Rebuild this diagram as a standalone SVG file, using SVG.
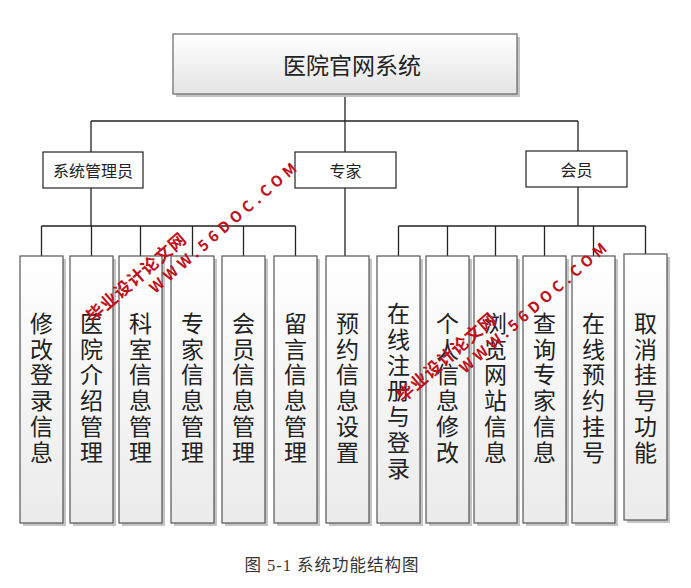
<svg xmlns="http://www.w3.org/2000/svg" width="691" height="588" viewBox="0 0 691 588">
<defs>
<linearGradient id="gTop" x1="0" y1="0" x2="0" y2="1"><stop offset="0" stop-color="#ffffff"/><stop offset="1" stop-color="#e4e4e4"/></linearGradient>
<linearGradient id="gLeaf" x1="0" y1="0" x2="0" y2="1"><stop offset="0" stop-color="#ffffff"/><stop offset="1" stop-color="#ebebeb"/></linearGradient>
<style>
.cn{font-family:"Noto Sans CJK SC","Noto Sans",sans-serif;fill:#222}
.top{font-size:23px}
.l2{font-size:16px}
.leaf{font-size:23px;writing-mode:vertical-rl;letter-spacing:2.8px;text-anchor:middle}
.shadow{fill:#c4c4c4}
.topbox{fill:url(#gTop);stroke:#666;stroke-width:1.2}
.leafbox{fill:url(#gLeaf);stroke:#555;stroke-width:1.2}
.l2box{fill:#fff;stroke:#222;stroke-width:1.2}
.conn{stroke:#222;stroke-width:1.3;fill:none}
.wm{font-family:"Noto Sans CJK SC","Liberation Sans",sans-serif;font-weight:bold;fill:#c0101a}
.cap{font-family:"Liberation Serif","Noto Sans CJK SC",serif;font-size:16.5px;letter-spacing:1px;fill:#333}
</style>
</defs>
<rect width="691" height="588" fill="#fff"/>

<g id="connectors" class="conn">
<path d="M345 95V121M91 121H578M91 121V152M345 121V256M578 121V151"/>
<path d="M91 188V226M41.5 226H295.5M41.5 226V256M91.5 226V256M140.5 226V256M192.5 226V256M243.5 226V256M295.5 226V256"/>
<path d="M578 187V226M398.5 226H645.5M398.5 226V256M447.5 226V256M495.5 226V256M544.5 226V256M593.5 226V256M645.5 226V254"/>
</g>

<g id="root">
<rect class="shadow" x="176" y="37" width="344" height="60"/>
<rect class="topbox" x="173" y="34" width="344" height="60"/>
<text class="cn top" x="352" y="64" text-anchor="middle" dominant-baseline="central">医院官网系统</text>
</g>

<g id="admin"><rect class="l2box" x="43" y="152" width="100" height="36"/><text class="cn l2" x="93" y="170" text-anchor="middle" dominant-baseline="central">系统管理员</text></g>
<g id="expert"><rect class="l2box" x="295" y="152" width="101" height="36"/><text class="cn l2" x="345.5" y="170" text-anchor="middle" dominant-baseline="central">专家</text></g>
<g id="member"><rect class="l2box" x="526" y="151" width="101" height="36"/><text class="cn l2" x="576.5" y="169" text-anchor="middle" dominant-baseline="central">会员</text></g>

<g id="leaf1"><rect class="shadow" x="23" y="259" width="43" height="267"/><rect class="leafbox" x="20" y="256" width="43" height="267"/><text class="cn leaf" x="41.5" y="389">修改登录信息</text></g>
<g id="leaf2"><rect class="shadow" x="73" y="259" width="43" height="267"/><rect class="leafbox" x="70" y="256" width="43" height="267"/><text class="cn leaf" x="91.5" y="389">医院介绍管理</text></g>
<g id="leaf3"><rect class="shadow" x="122" y="259" width="43" height="267"/><rect class="leafbox" x="119" y="256" width="43" height="267"/><text class="cn leaf" x="140.5" y="389">科室信息管理</text></g>
<g id="leaf4"><rect class="shadow" x="174" y="259" width="43" height="267"/><rect class="leafbox" x="171" y="256" width="43" height="267"/><text class="cn leaf" x="192.5" y="389">专家信息管理</text></g>
<g id="leaf5"><rect class="shadow" x="225" y="259" width="43" height="267"/><rect class="leafbox" x="222" y="256" width="43" height="267"/><text class="cn leaf" x="243.5" y="389">会员信息管理</text></g>
<g id="leaf6"><rect class="shadow" x="277" y="259" width="43" height="267"/><rect class="leafbox" x="274" y="256" width="43" height="267"/><text class="cn leaf" x="295.5" y="389">留言信息管理</text></g>
<g id="leaf7"><rect class="shadow" x="329" y="259" width="43" height="267"/><rect class="leafbox" x="326" y="256" width="43" height="267"/><text class="cn leaf" x="347.5" y="389">预约信息设置</text></g>
<g id="leaf8"><rect class="shadow" x="380" y="259" width="43" height="267"/><rect class="leafbox" x="377" y="256" width="43" height="267"/><text class="cn leaf" x="398.5" y="392">在线注册与登录</text></g>
<g id="leaf9"><rect class="shadow" x="429" y="259" width="43" height="267"/><rect class="leafbox" x="426" y="256" width="43" height="267"/><text class="cn leaf" x="447.5" y="389">个人信息修改</text></g>
<g id="leaf10"><rect class="shadow" x="477" y="259" width="43" height="267"/><rect class="leafbox" x="474" y="256" width="43" height="267"/><text class="cn leaf" x="495.5" y="389">浏览网站信息</text></g>
<g id="leaf11"><rect class="shadow" x="526" y="259" width="43" height="267"/><rect class="leafbox" x="523" y="256" width="43" height="267"/><text class="cn leaf" x="544.5" y="389">查询专家信息</text></g>
<g id="leaf12"><rect class="shadow" x="575" y="259" width="43" height="267"/><rect class="leafbox" x="572" y="256" width="43" height="267"/><text class="cn leaf" x="593.5" y="389">在线预约挂号</text></g>
<g id="leaf13"><rect class="shadow" x="627" y="257" width="43" height="266"/><rect class="leafbox" x="624" y="254" width="43" height="266"/><text class="cn leaf" x="645.5" y="389">取消挂号功能</text></g>

<g id="watermark1" transform="translate(93,323) rotate(-41)">
<text class="wm" x="0" y="0" font-size="17" letter-spacing="1">毕业设计论文网</text>
<text class="wm" x="66" y="19" font-size="15" letter-spacing="4.6">WWW.56DOC.COM</text>
</g>
<g id="watermark2" transform="translate(403,403) rotate(-41)">
<text class="wm" x="0" y="0" font-size="17" letter-spacing="1">毕业设计论文网</text>
<text class="wm" x="66" y="19" font-size="15" letter-spacing="4.6">WWW.56DOC.COM</text>
</g>

<text class="cap" x="332" y="565" text-anchor="middle" dominant-baseline="central">图 5-1 系统功能结构图</text>
</svg>
